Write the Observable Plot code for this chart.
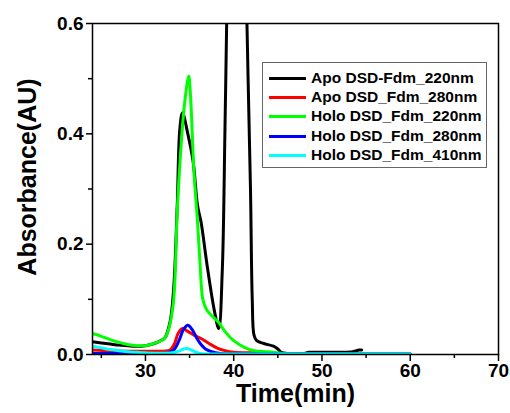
<!DOCTYPE html>
<html><head><meta charset="utf-8">
<script src="https://cdn.jsdelivr.net/npm/d3@7"></script>
<script src="https://cdn.jsdelivr.net/npm/@observablehq/plot@0.6"></script>
<style>
body{margin:0;background:#fff;font-family:"Liberation Sans",Arial,sans-serif;}
#wrap{position:relative;width:510px;height:413px;}
#legend{position:absolute;left:262px;top:62px;width:223px;height:104px;border:1px solid #666;background:#fff;}
.row{position:absolute;left:0;height:20px;display:flex;align-items:center;}
.sw{position:absolute;left:6px;width:37px;height:3px;}
.lab{position:absolute;left:48px;white-space:nowrap;font-weight:bold;font-size:15.5px;color:#000;line-height:20px;}
</style></head>
<body><div id="wrap"><div id="chart"></div><div id="legend"></div></div>
<script>
// ---- data ----
const seriesNames = ["Apo DSD-Fdm_220nm","Apo DSD_Fdm_280nm","Holo DSD_Fdm_220nm","Holo DSD_Fdm_280nm","Holo DSD_Fdm_410nm"];
const seriesColors = ["#000000","#ff0000","#00ff00","#0000ff","#00ffff"];

const apo220_t = [24,25,26,27,28,29,30,31,31.7,32.2,32.8,33.2,33.6,33.9,34.2,34.8,35.4,35.9,36.3,37.0,37.8,38.3,38.7,39.0,39.2,39.5,40.0,40.4,40.9,41.2,41.5,41.9,42.1,42.3,42.6,43.4,44.5,45.0,45.4,46,47,48,48.5,50,52,53.5,54.2,54.5];
const apo220_v = [0.023,0.021,0.019,0.017,0.016,0.015,0.016,0.02,0.025,0.03,0.06,0.12,0.27,0.41,0.438,0.40,0.35,0.27,0.24,0.16,0.08,0.047,0.15,0.4,0.6,0.9,1.2,1.3,1.2,0.9,0.6,0.3,0.1,0.035,0.025,0.02,0.015,0.01,0.004,0.002,0.002,0.002,0.004,0.004,0.004,0.005,0.008,0.008];

const apo280_t = [24,26,28,30,32,32.8,33.3,33.7,34.2,34.8,35.5,36.3,37.2,38.2,39.0,40.0,42,44,45,46,50,55,60];
const apo280_v = [0.008,0.007,0.006,0.006,0.006,0.008,0.02,0.038,0.047,0.042,0.035,0.029,0.02,0.011,0.007,0.004,0.003,0.003,0.002,0.001,0.001,0.001,0.001];

const holo220_t = [24,25,26,27,28,29,30,31,32.2,32.7,33.2,33.6,34.0,34.4,34.9,35.1,35.5,35.9,36.2,36.5,36.9,37.3,38.3,39.0,40.0,41.2,42.3,43.9,45.6,50,55,60];
const holo220_v = [0.038,0.033,0.027,0.022,0.018,0.016,0.016,0.02,0.03,0.05,0.1,0.26,0.37,0.45,0.505,0.47,0.33,0.24,0.16,0.1,0.082,0.074,0.058,0.042,0.025,0.013,0.007,0.005,0.002,0.001,0.001,0.001];

const holo280_t = [24,30,32.5,33.2,33.8,34.3,34.8,35.3,35.8,36.3,36.8,37.5,38.5,45,60];
const holo280_v = [0.002,0.002,0.003,0.008,0.025,0.045,0.053,0.045,0.03,0.018,0.01,0.005,0.002,0.001,0.001];

const holo410_t = [24,25,26,27,28,29,30,33,33.8,34.3,34.7,35.1,35.6,36.2,38,45,60];
const holo410_v = [0.015,0.012,0.009,0.007,0.005,0.004,0.003,0.003,0.006,0.01,0.011,0.009,0.005,0.002,0.001,0.001,0.001];

const xMajor = [30,40,50,60,70];
const xMinor = [25,35,45,55,65];
const yMajor = [0,0.2,0.4,0.6];
const yMinor = [0.1,0.3,0.5];
const xLabel = "Time(min)";
const yLabel = "Absorbance(AU)";

// ---- build table ----
const ts = [apo220_t, apo280_t, holo220_t, holo280_t, holo410_t];
const vs = [apo220_v, apo280_v, holo220_v, holo280_v, holo410_v];
const rows = [];
seriesNames.forEach((s,i)=>ts[i].forEach((t,j)=>rows.push({series:s, t, v:vs[i][j]})));

const font = '"Liberation Sans", Arial, sans-serif';
const chart = Plot.plot({
  width:510, height:413,
  marginLeft:92, marginRight:12, marginTop:23, marginBottom:59,
  style:{fontFamily:font, fontWeight:"bold", fontSize:"19px", color:"#000", background:"#fff"},
  x:{domain:[24,70]},
  y:{domain:[0,0.6]},
  color:{domain:seriesNames, range:seriesColors},
  marks:[
    ...seriesNames.map(s => Plot.line(rows.filter(d=>d.series===s), {x:"t", y:"v", stroke:"series", strokeWidth:3, curve:"catmull-rom", clip:true})),
    Plot.frame({stroke:"#000", strokeWidth:1.5}),
    Plot.axisX(xMajor, {tickSize:7, tickPadding:2, strokeWidth:1.5, label:null, fontSize:19}),
    Plot.axisX(xMinor, {tickSize:4, strokeWidth:1.5, tickFormat:()=>"", label:null}),
    Plot.axisY(yMajor, {tickSize:6, tickPadding:3, strokeWidth:1.5, tickFormat:d3.format(".1f"), label:null, fontSize:19}),
    Plot.axisY(yMinor, {tickSize:4, strokeWidth:1.5, tickFormat:()=>"", label:null}),
    Plot.text([xLabel], {frameAnchor:"bottom", dy:47, fontSize:25, fontWeight:"bold", text:d=>d}),
    Plot.text([yLabel], {frameAnchor:"left", textAnchor:"middle", dx:-65, dy:-12, rotate:-90, fontSize:25, fontWeight:"bold", text:d=>d})
  ]
});
document.getElementById("chart").appendChild(chart);

// legend
const leg = document.getElementById("legend");
seriesNames.forEach((s,i)=>{
  const r = document.createElement("div");
  r.className="row"; r.style.top = (5 + i*19.2) + "px"; r.style.width="100%";
  const sw = document.createElement("div"); sw.className="sw"; sw.style.background = seriesColors[i]; sw.style.top="9px";
  const lb = document.createElement("div"); lb.className="lab"; lb.textContent = s;
  r.appendChild(sw); r.appendChild(lb); leg.appendChild(r);
});
</script>
</body></html>
